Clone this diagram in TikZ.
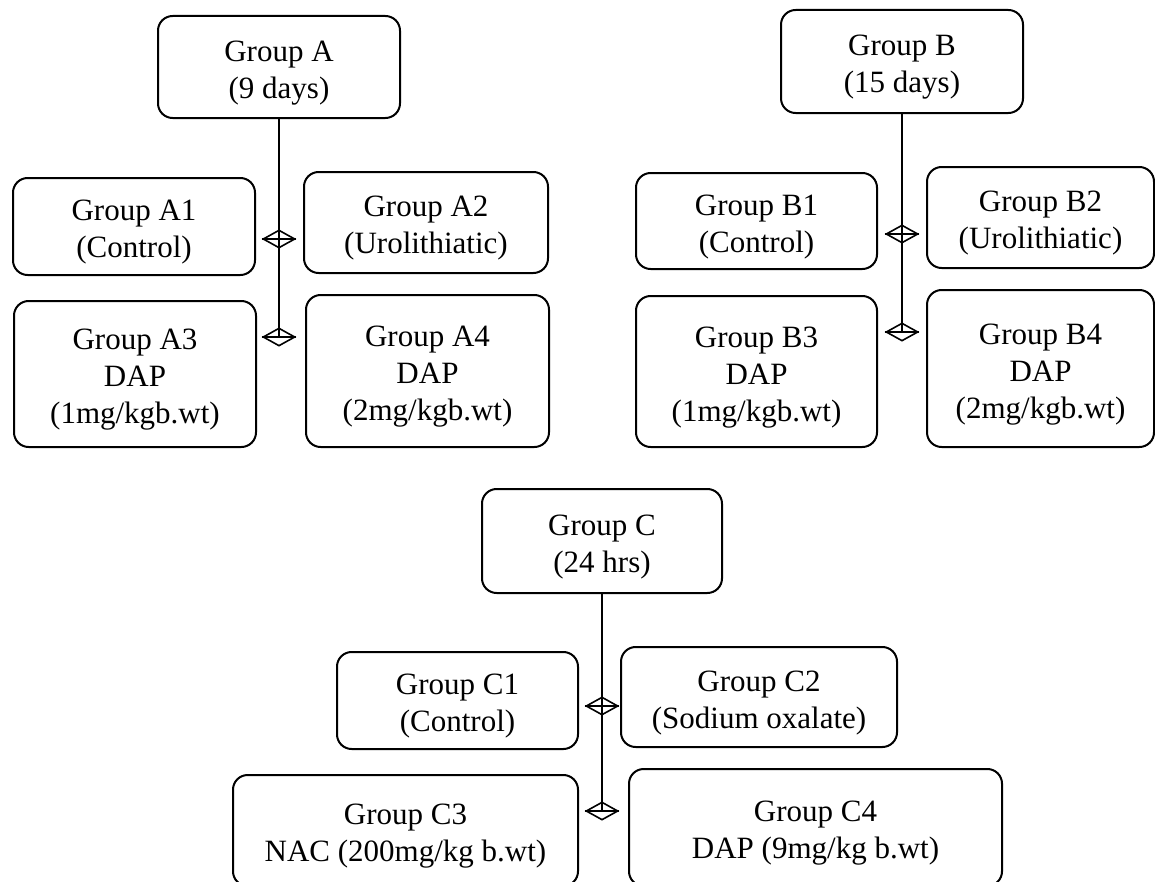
\documentclass[tikz,border=0pt]{standalone}
\usepackage{fontspec}
\setmainfont{Liberation Serif}
\usetikzlibrary{shapes.geometric}
\newcommand\gbox[6]{\node[gbox, minimum width={(#4-#2)*0.75pt}, minimum height={(#5-#3)*0.75pt}] (#1) at ({(#2+#4)/2},{(#3+#5)/2}) {\rule{0pt}{24pt}#6};}
\newcommand\dmd[3]{\node[dmd] (#1) at (#2,#3) {}; \draw[dline] (#1.west) -- (#1.east);}
\begin{document}
\begin{tikzpicture}[x=0.75pt,y=-0.75pt,
  gbox/.style={draw, rounded corners=11pt, line width=1.5pt, align=center, inner sep=0pt,
    font=\fontsize{23.25}{27.75}\selectfont},
  dmd/.style={draw, diamond, inner sep=0pt, minimum width=24pt, minimum height=13.5pt, line width=1.2pt},
  dline/.style={line width=1.2pt},
  conn/.style={line width=1.1pt}]
\clip (0,0) rectangle (1155,881);
% Group A
\gbox{A}{158}{16}{400}{118}{Group A\\(9 days)}
\gbox{A1}{13}{178}{255}{275}{Group A1\\(Control)}
\gbox{A2}{304}{172}{548}{273}{Group A2\\(Urolithiatic)}
\gbox{A3}{14}{301}{256}{447}{Group A3\\DAP\\(1mg/kgb.wt)}
\gbox{A4}{306}{295}{549}{447}{Group A4\\DAP\\(2mg/kgb.wt)}
\dmd{dA1}{279}{239}
\dmd{dA2}{279}{337}
\draw[conn] (A.south) -- (dA2.center);
% Group B
\gbox{B}{781}{10}{1023}{113}{Group B\\(15 days)}
\gbox{B1}{636}{173}{877}{269}{Group B1\\(Control)}
\gbox{B2}{927}{167}{1154}{268}{Group B2\\(Urolithiatic)}
\gbox{B3}{636}{296}{877}{447}{Group B3\\DAP\\(1mg/kgb.wt)}
\gbox{B4}{927}{290}{1154}{447}{Group B4\\DAP\\(2mg/kgb.wt)}
\dmd{dB1}{902}{234}
\dmd{dB2}{902}{332}
\draw[conn] (B.south) -- (dB2.center);
% Group C
\gbox{C}{482}{489}{722}{593}{Group C\\(24 hrs)}
\gbox{C1}{337}{652}{578}{749}{Group C1\\(Control)}
\gbox{C2}{621}{647}{897}{747}{Group C2\\(Sodium oxalate)}
\gbox{C3}{233}{775}{578}{886}{Group C3\\NAC (200mg/kg b.wt)}
\gbox{C4}{629}{769}{1002}{886}{Group C4\\DAP (9mg/kg b.wt)}
\dmd{dC1}{602}{706}
\dmd{dC2}{602}{811}
\draw[conn] (C.south) -- (dC2.center);
\end{tikzpicture}
\end{document}
